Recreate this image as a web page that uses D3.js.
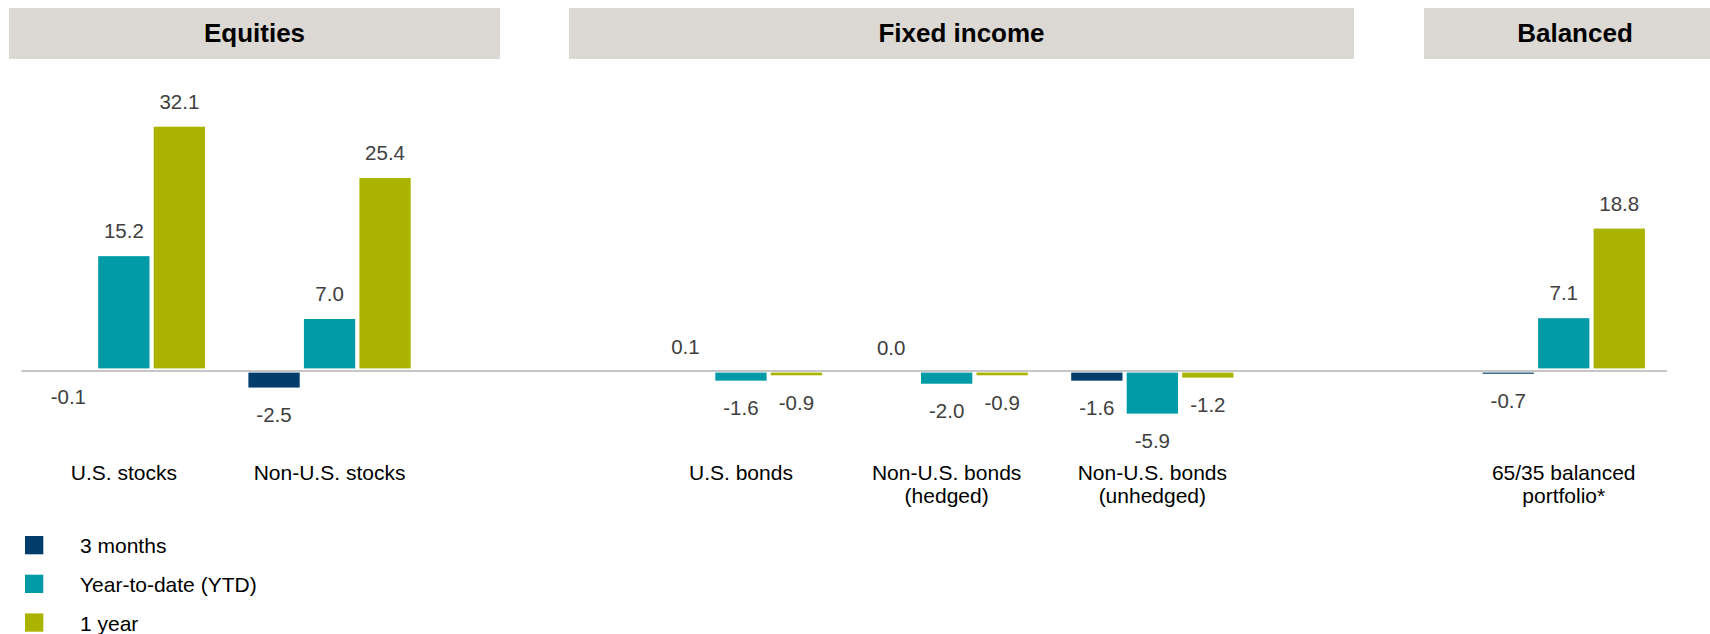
<!DOCTYPE html>
<html>
<head>
<meta charset="utf-8">
<script src="https://cdn.jsdelivr.net/npm/d3@7"></script>
<style>
  html, body { margin: 0; padding: 0; background: #ffffff; }
  svg { display: block; }
  text { font-family: "Liberation Sans", Arial, Helvetica, sans-serif; }
</style>
</head>
<body>
<svg id="chart" width="1710" height="634"></svg>
<script>
// ---------- data ----------
const slots = ["U.S. stocks", "Non-U.S. stocks", "_gap1", "U.S. bonds",
  "Non-U.S. bonds (hedged)", "Non-U.S. bonds (unhedged)", "_gap2", "65/35 balanced portfolio*"];
const categories = ["U.S. stocks", "Non-U.S. stocks", "U.S. bonds",
  "Non-U.S. bonds (hedged)", "Non-U.S. bonds (unhedged)", "65/35 balanced portfolio*"];
const categoryLines = [["U.S. stocks"], ["Non-U.S. stocks"], ["U.S. bonds"],
  ["Non-U.S. bonds", "(hedged)"], ["Non-U.S. bonds", "(unhedged)"], ["65/35 balanced", "portfolio*"]];
const seriesNames = ["3 months", "Year-to-date (YTD)", "1 year"];
const threeMonths = [-0.1, -2.5, 0.1, 0.0, -1.6, -0.7];
const yearToDate  = [15.2, 7.0, -1.6, -2.0, -5.9, 7.1];
const oneYear     = [32.1, 25.4, -0.9, -0.9, -1.2, 18.8];
const groupNames = ["Equities", "Fixed income", "Balanced"];

// ---------- layout / style ----------
const colors = ["#023d6b", "#009ba6", "#aab400"];
const headerBoxes = [[9, 500], [569, 1354], [1424, 1730]];
const headerTextX = [254.5, 961.5, 1575];
const svg = d3.select("#chart");
const fmt = d3.formatLocale({ decimal: ".", thousands: ",", grouping: [3], currency: ["", ""], minus: "-" }).format(".1f");

const seriesValues = [threeMonths, yearToDate, oneYear];
const rows = categories.map((c, i) => ({
  cat: c, lines: categoryLines[i],
  vals: seriesNames.map((s, j) => ({ series: s, idx: j, v: seriesValues[j][i] }))
}));

const x = d3.scaleBand().domain(slots).range([21, 1666.6]).padding(0);
const innerW = 166.5;
const x1 = d3.scaleBand().domain(seriesNames)
  .range([(x.bandwidth() - innerW) / 2, (x.bandwidth() + innerW) / 2]).padding(0);
const y = d3.scaleLinear().domain([-10, 40]).range([370.5 + 76.6, 370.5 - 306.4]);

// headers
const hdr = svg.append("g");
groupNames.forEach((g, i) => {
  hdr.append("rect")
    .attr("x", headerBoxes[i][0]).attr("y", 8)
    .attr("width", headerBoxes[i][1] - headerBoxes[i][0]).attr("height", 51)
    .attr("fill", "#dcd9d4");
  hdr.append("text")
    .attr("x", headerTextX[i]).attr("y", 42.3)
    .attr("text-anchor", "middle")
    .attr("font-size", 26).attr("font-weight", "bold").attr("fill", "#000")
    .text(g);
});

// axis baseline
const axis = svg.append("g").attr("transform", `translate(0,${y(0)})`)
  .call(d3.axisBottom(x).tickSize(0).tickFormat(""));
axis.select(".domain").attr("stroke", "#b3b3b3").attr("stroke-width", 1.6);

// bars
const inset = 2.1;
const groups = svg.append("g").selectAll("g").data(rows).join("g")
  .attr("transform", d => `translate(${x(d.cat)},0)`);

groups.selectAll("rect").data(d => d.vals).join("rect")
  .attr("x", d => x1(d.series) + inset)
  .attr("width", x1.bandwidth() - 2 * inset)
  .attr("y", d => d.v >= 0 ? y(d.v) + inset : y(0) + inset)
  .attr("height", d => Math.max(0, Math.abs(y(d.v) - y(0)) - 2 * inset))
  .attr("fill", d => colors[d.idx]);

// value labels
groups.selectAll("text.val").data(d => d.vals).join("text")
  .attr("class", "val")
  .attr("x", d => x1(d.series) + x1.bandwidth() / 2)
  .attr("y", d => d.v >= 0 ? y(d.v) - 15.8 : y(d.v) + 32.5)
  .attr("text-anchor", "middle")
  .attr("font-size", 20.5).attr("fill", "#404040")
  .text(d => fmt(d.v));

// category labels
groups.append("text")
  .attr("class", "cat")
  .attr("x", x.bandwidth() / 2)
  .attr("y", 480)
  .attr("text-anchor", "middle")
  .attr("font-size", 21).attr("fill", "#000")
  .selectAll("tspan").data(d => d.lines).join("tspan")
  .attr("x", x.bandwidth() / 2)
  .attr("dy", (d, i) => i === 0 ? 0 : 23)
  .text(d => d);

// legend
const leg = svg.append("g").selectAll("g").data(seriesNames).join("g")
  .attr("transform", (d, i) => `translate(25,${536 + i * 38.7})`);
leg.append("rect").attr("width", 18.3).attr("height", 18.3)
  .attr("fill", (d, i) => colors[i]);
leg.append("text").attr("x", 55).attr("y", 17.3)
  .attr("font-size", 21).attr("fill", "#000").text(d => d);
</script>
</body>
</html>
